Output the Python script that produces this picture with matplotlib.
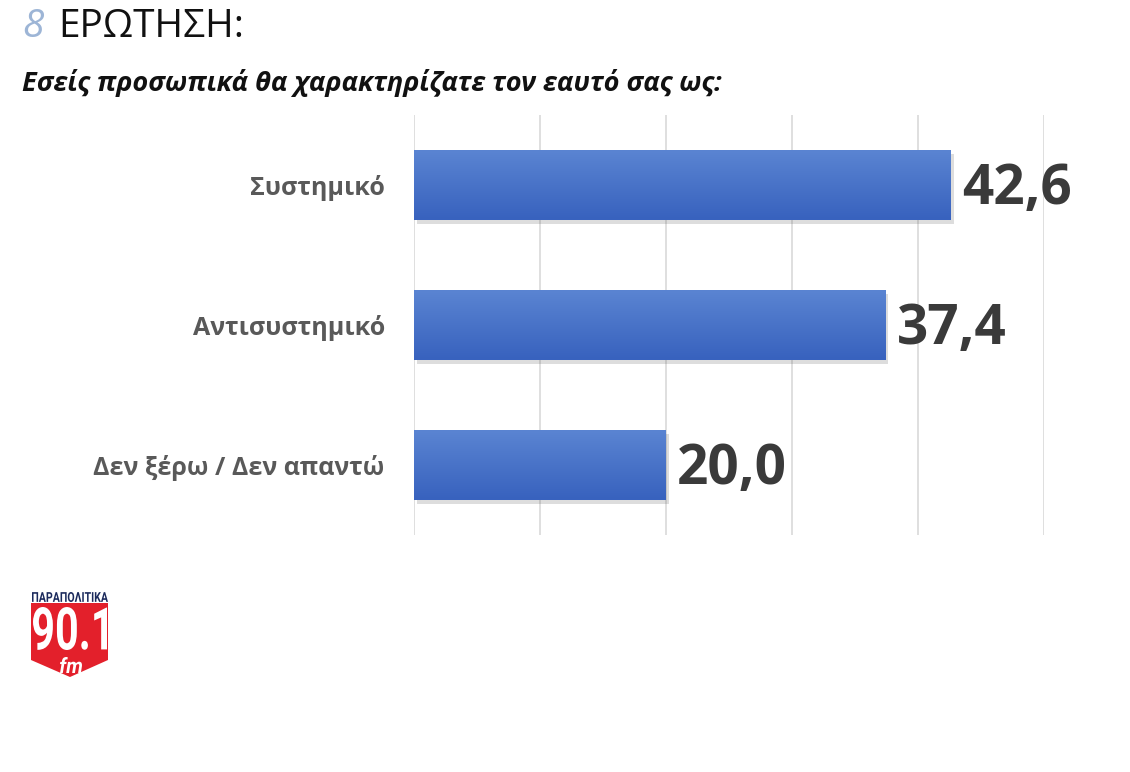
import matplotlib
matplotlib.use("Agg")
import matplotlib.pyplot as plt
import matplotlib.patheffects as pe
from matplotlib.patches import Polygon, PathPatch
from matplotlib.colors import LinearSegmentedColormap
from matplotlib.textpath import TextPath
from matplotlib.font_manager import FontProperties
from matplotlib.transforms import Affine2D
import numpy as np

categories = ["Συστημικό", "Αντισυστημικό", "Δεν ξέρω / Δεν απαντώ"]
values = [42.6, 37.4, 20.0]
value_labels = ["42,6", "37,4", "20,0"]
question_number = "8"
title_text = "ΕΡΩΤΗΣΗ:"
subtitle_text = "Εσείς προσωπικά θα χαρακτηρίζατε τον εαυτό σας ως:"

plt.rcParams['font.family'] = ['Open Sans', 'DejaVu Sans']

fig = plt.figure(figsize=(11.3, 7.72), dpi=100)
fig.patch.set_facecolor("white")
ax = fig.add_axes([414/1130, (772-535)/772, 630/1130, 420/772])

y = np.arange(len(categories))
bars = ax.barh(y, values, height=0.5, color="#4470C8", zorder=3,
               path_effects=[pe.SimplePatchShadow(offset=(2, -3), alpha=0.2, shadow_rgbFace="#555555"), pe.Normal()])

grad = np.linspace(0, 1, 100).reshape(-1, 1)
cmap = LinearSegmentedColormap.from_list("g", ["#5A84D2", "#3862BE"])
for b in bars:
    x0, y0 = b.get_x(), b.get_y()
    w, h = b.get_width(), b.get_height()
    im = ax.imshow(grad, extent=(x0, x0 + w, y0 + h, y0), cmap=cmap, aspect="auto", zorder=4)
    im.set_clip_path(b)

for b, lab in zip(bars, value_labels):
    ax.text(b.get_width() + 0.9, b.get_y() + b.get_height() / 2 + 0.03, lab,
            va="center", ha="left", fontsize=39.5, fontweight="bold", color="#3A3A3A", zorder=5)

ax.set_xlim(0, 50)
ax.set_ylim(len(categories) - 0.5, -0.5)
ax.set_xticks([0, 10, 20, 30, 40, 50])
ax.xaxis.grid(True, color="#D9D9D9", linewidth=1.2, zorder=0)
ax.tick_params(axis="x", length=0, labelbottom=False)
ax.set_yticks(y)
ax.set_yticklabels(categories, fontsize=18, fontweight="bold", color="#595959")
ax.tick_params(axis="y", length=0, pad=21)
for s in ax.spines.values():
    s.set_visible(False)

# Title
fig.text(22/1130, 1 - 27/772, question_number, fontsize=28, style="italic", color="#9DB5D6", va="center", ha="left")
fig.text(58/1130, 1 - 27/772, title_text, fontsize=28, color="#111111", va="center", ha="left")
fig.text(22/1130, 1 - 83/772, subtitle_text, fontsize=19.5, fontweight="bold", style="italic",
         color="#111111", va="center", ha="left")

# Logo
W, H = 1130, 772
def fc(px, py):
    return (px / W, 1 - py / H)

def boxed_text(s, x0, y0, x1, y1, color, weight="bold", style="normal", z=10):
    """Draw text stretched into pixel box (x0,y0)-(x1,y1), y measured from the top."""
    fp = FontProperties(family="Roboto", weight=weight, style=style)
    tp = TextPath((0, 0), s, size=100, prop=fp)
    ext = tp.get_extents()
    sx = (x1 - x0) / ext.width / W
    sy = (y1 - y0) / ext.height / H
    tr = Affine2D().translate(-ext.x0, -ext.y0).scale(sx, sy).translate(x0 / W, 1 - y1 / H)
    path = tr.transform_path(tp)
    fig.add_artist(PathPatch(path, transform=fig.transFigure, facecolor=color, edgecolor="none", zorder=z))

shape = Polygon([fc(31, 603), fc(108, 603), fc(108, 660), fc(70, 677), fc(31, 660)],
                closed=True, transform=fig.transFigure, facecolor="#E3202B", edgecolor="none")
fig.add_artist(shape)
boxed_text("ΠΑΡΑΠΟΛΙΤΙΚΑ", 32, 592, 108, 602, "#1B2A5C")
boxed_text("90.1", 33, 607, 107, 650, "white")
boxed_text("fm", 60, 657, 82, 673, "white", style="italic")

fig.savefig("out.png", dpi=100, facecolor="white")
